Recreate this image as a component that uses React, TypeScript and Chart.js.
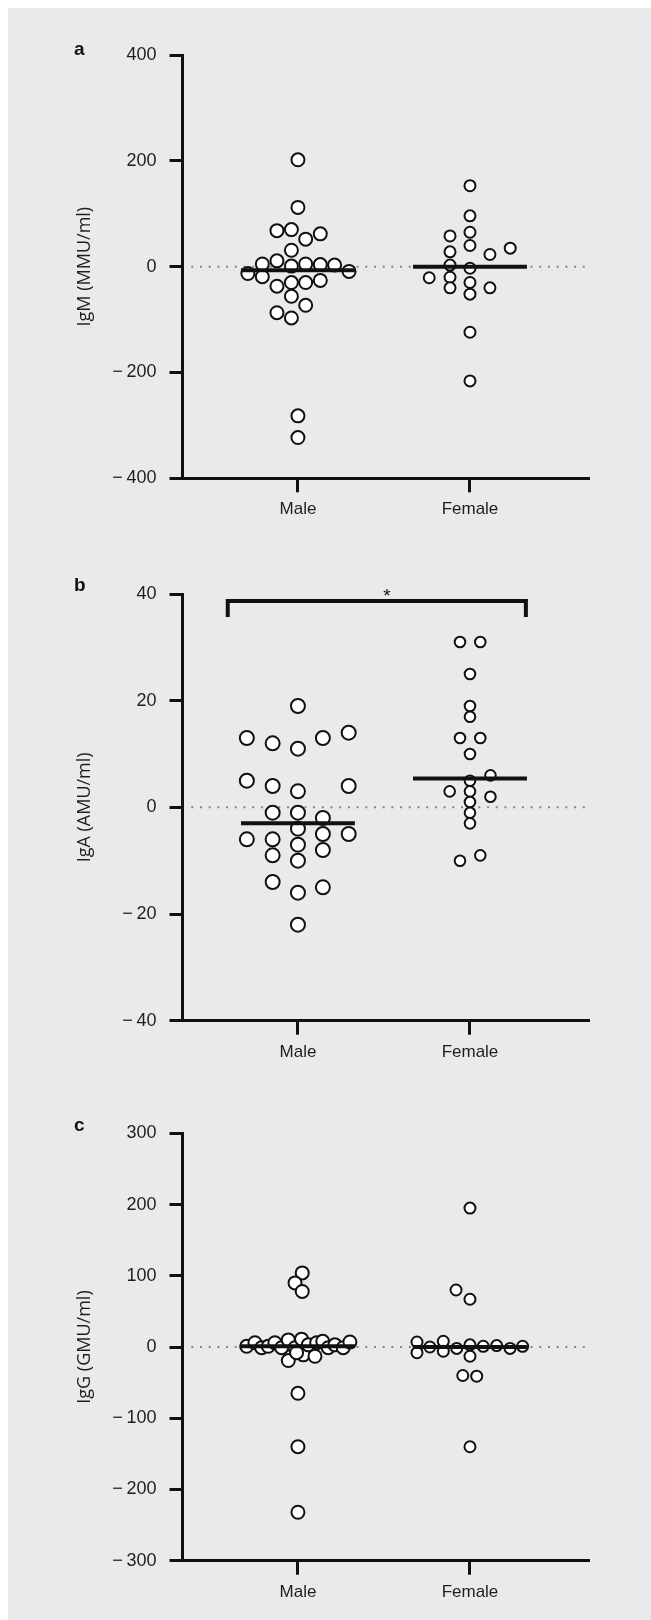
import React, { useEffect, useRef } from 'react';
import { Chart, registerables } from 'chart.js';

Chart.register(...registerables);

// ---------------- data ----------------
const CATEGORIES = ['Male', 'Female'];

// Panel a – IgM (MMU/ml)
const igmTicks = [-400, -200, 0, 200, 400];
const igmMale = [202, 112, 68, 70, 52, 62, 31, 5, 11, 1, 5, 4, 3, -9, -13, -19, -37, -30, -30, -26, -56, -73, -87, -97, -282, -323];
const igmMaleSpread = [0, 0, -0.122, -0.038, 0.045, 0.13, -0.038, -0.207, -0.122, -0.038, 0.045, 0.13, 0.213, 0.297, -0.291, -0.207, -0.122, -0.038, 0.045, 0.13, -0.038, 0.045, -0.122, -0.038, 0, 0];
const igmFemale = [153, 96, 65, 40, 58, 28, 3, -3, 23, 35, -21, -20, -40, -30, -52, -40, -124, -216];
const igmFemaleSpread = [0, 0, 0, 0, -0.116, -0.116, -0.116, 0, 0.116, 0.234, -0.237, -0.116, -0.116, 0, 0, 0.116, 0, 0];
const igmMedians = [-7, 0];

// Panel b – IgA (AMU/ml)
const igaTicks = [-40, -20, 0, 20, 40];
const igaMale = [19, 13, 12, 11, 13, 14, 5, 4, 3, 4, -1, -1, -2, -4, -5, -5, -6, -6, -7, -8, -9, -10, -14, -16, -15, -22];
const igaMaleSpread = [0, -0.297, -0.147, 0, 0.145, 0.295, -0.297, -0.147, 0, 0.295, -0.147, 0, 0.145, 0, 0.145, 0.295, -0.297, -0.147, 0, 0.145, -0.147, 0, -0.147, 0, 0.145, 0];
const igaFemale = [31, 31, 25, 19, 17, 13, 13, 10, 6, 5, 3, 3, 2, 1, -1, -3, -10, -9];
const igaFemaleSpread = [-0.058, 0.06, 0, 0, 0, -0.058, 0.06, 0, 0.119, 0, -0.118, 0, 0.119, 0, 0, 0, -0.058, 0.06];
const igaMedians = [-3, 5.4];
const igaBracketX = [-0.408, 1.325];
const igaBracketY = [35.7, 38.7];
const igaSignificance = '*';

// Panel c – IgG (GMU/ml)
const iggTicks = [-300, -200, -100, 0, 100, 200, 300];
const iggMale = [104, 90, 78, 1, 6, -1, 1, 6, -1, 10, -19, -1, 11, -11, 3, -13, 6, 8, -1, 3, -1, 7, -8, -65, -140, -232];
const iggMaleSpread = [0.025, -0.017, 0.025, -0.298, -0.25, -0.211, -0.173, -0.134, -0.095, -0.056, -0.056, -0.017, 0.021, 0.031, 0.06, 0.099, 0.109, 0.144, 0.176, 0.215, 0.263, 0.302, -0.008, 0, 0, 0];
const iggFemale = [195, 80, 67, 7, -8, 0, 8, -6, -2, 3, -13, 1, 2, -2, 1, -40, -41, -140];
const iggFemaleSpread = [0, -0.081, 0, -0.308, -0.308, -0.233, -0.155, -0.155, -0.077, 0, 0, 0.077, 0.155, 0.233, 0.306, -0.042, 0.039, 0];
const iggMedians = [1, 0];

// ---------------- styles / layout ----------------
const FONT = '"Liberation Sans", Arial, sans-serif';
const TITLE_FONT = '"Open Sans", "Liberation Sans", sans-serif';
const INK = '#111111';
const TEXT = '#1e1e1e';
const BG = '#e9eaeb';
const CANVAS_W = 643;
const X_MIN = -0.671;
const X_MAX = 1.686;
const MEDIAN_HALF = 0.331;
const ZERO_LINE_START = -0.62;

type PanelCfg = {
  letter: string;
  title: string;
  ticks: number[];
  male: number[];
  maleSpread: number[];
  female: number[];
  femaleSpread: number[];
  medians: number[];
  maleRadius: number;
  femaleRadius: number;
  top: number;
  canvasH: number;
  areaTop: number;
  areaBottom: number;
  letterY: number;
  bracket?: { x: number[]; y: number[]; label: string; labelX: number; labelY: number };
};

const PANELS: PanelCfg[] = [
  {
    letter: 'a', title: 'IgM (MMU/ml)', ticks: igmTicks,
    male: igmMale, maleSpread: igmMaleSpread, female: igmFemale, femaleSpread: igmFemaleSpread,
    medians: igmMedians, maleRadius: 6.5, femaleRadius: 5.5,
    top: 12, canvasH: 520, areaTop: 35, areaBottom: 458.3, letterY: 35,
  },
  {
    letter: 'b', title: 'IgA (AMU/ml)', ticks: igaTicks,
    male: igaMale, maleSpread: igaMaleSpread, female: igaFemale, femaleSpread: igaFemaleSpread,
    medians: igaMedians, maleRadius: 7, femaleRadius: 5.3,
    top: 551, canvasH: 520, areaTop: 35, areaBottom: 461.7, letterY: 32,
    bracket: { x: igaBracketX, y: igaBracketY, label: igaSignificance, labelX: 0.518, labelY: 38.5 },
  },
  {
    letter: 'c', title: 'IgG (GMU/ml)', ticks: iggTicks,
    male: iggMale, maleSpread: iggMaleSpread, female: iggFemale, femaleSpread: iggFemaleSpread,
    medians: iggMedians, maleRadius: 6.5, femaleRadius: 5.5,
    top: 1090, canvasH: 520, areaTop: 35.3, areaBottom: 462.7, letterY: 33,
  },
];

const fmtTick = (v: number) => (v < 0 ? '\u2212\u2009' + Math.abs(v) : String(v));

function buildConfig(p: PanelCfg): any {
  const points = (vals: number[], spread: number[], cat: number) =>
    vals.map((v, i) => ({ x: cat + spread[i], y: v }));
  const yMin = p.ticks[0];
  const yMax = p.ticks[p.ticks.length - 1];

  const datasets: any[] = [];
  p.medians.forEach((m, i) => {
    datasets.push({
      data: [{ x: i - MEDIAN_HALF, y: m }, { x: i + MEDIAN_HALF, y: m }],
      showLine: true, borderColor: INK, borderWidth: 4, pointRadius: 0, borderCapStyle: 'butt',
    });
  });
  if (p.bracket) {
    const b = p.bracket;
    datasets.push({
      data: [
        { x: b.x[0], y: b.y[0] }, { x: b.x[0], y: b.y[1] },
        { x: b.x[1], y: b.y[1] }, { x: b.x[1], y: b.y[0] },
      ],
      showLine: true, borderColor: INK, borderWidth: 4, pointRadius: 0,
      borderJoinStyle: 'miter', borderCapStyle: 'butt', clip: false,
    });
  }
  datasets.push({
    data: points(p.male, p.maleSpread, 0),
    pointRadius: p.maleRadius, pointBorderWidth: 2, pointBorderColor: INK, pointBackgroundColor: '#ffffff',
    showLine: false,
  });
  datasets.push({
    data: points(p.female, p.femaleSpread, 1),
    pointRadius: p.femaleRadius, pointBorderWidth: 2, pointBorderColor: INK, pointBackgroundColor: '#ffffff',
    showLine: false,
  });
  datasets.push({
    data: [{ x: ZERO_LINE_START, y: 0 }, { x: X_MAX, y: 0 }],
    showLine: true, borderColor: '#858585', borderWidth: 2, borderDash: [2, 6.7], pointRadius: 0,
  });

  const textPlugin = {
    id: 'panelText',
    afterDraw(chart: any) {
      const ctx = chart.ctx;
      ctx.save();
      ctx.fillStyle = INK;
      ctx.textBaseline = 'alphabetic';
      ctx.textAlign = 'left';
      ctx.font = `bold 19px ${FONT}`;
      ctx.fillText(p.letter, 66, p.letterY);
      if (p.bracket) {
        const b = p.bracket;
        ctx.font = `19px ${FONT}`;
        ctx.textAlign = 'center';
        ctx.fillText(b.label, chart.scales.x.getPixelForValue(b.labelX), chart.scales.y.getPixelForValue(b.labelY));
      }
      ctx.restore();
    },
  };

  return {
    type: 'scatter',
    data: { datasets },
    plugins: [textPlugin],
    options: {
      animation: false,
      responsive: false,
      devicePixelRatio: 1,
      events: [],
      layout: { padding: { top: p.areaTop, left: 0, right: CANVAS_W - 580, bottom: 0 } },
      plugins: { legend: { display: false }, tooltip: { enabled: false } },
      scales: {
        x: {
          type: 'linear',
          min: X_MIN,
          max: X_MAX,
          afterBuildTicks: (s: any) => { s.ticks = CATEGORIES.map((_, i) => ({ value: i })); },
          afterFit: (s: any) => { s.height = p.canvasH - p.areaBottom; },
          ticks: {
            callback: (v: number) => CATEGORIES[v] ?? '',
            color: TEXT, font: { family: FONT, size: 17 }, padding: 7, maxRotation: 0, autoSkip: false,
          },
          grid: { display: true, drawOnChartArea: false, drawTicks: true, tickLength: 14, color: INK, lineWidth: 3 },
          border: { display: true, color: INK, width: 3 },
        },
        y: {
          type: 'linear',
          min: yMin,
          max: yMax,
          afterBuildTicks: (s: any) => { s.ticks = p.ticks.map((v) => ({ value: v })); },
          afterFit: (s: any) => { s.width = 174.5; },
          ticks: { callback: (v: number) => fmtTick(v), color: TEXT, font: { family: FONT, size: 18 }, padding: 13 },
          grid: { display: true, drawOnChartArea: false, drawTicks: true, tickLength: 13, color: INK, lineWidth: 3 },
          border: { display: true, color: INK, width: 3 },
          title: {
            display: true, text: p.title, color: TEXT,
            font: { family: TITLE_FONT, size: 18 }, padding: { top: 66, bottom: 0 },
          },
        },
      },
    },
  };
}

function Panel({ cfg }: { cfg: PanelCfg }) {
  const ref = useRef<HTMLCanvasElement>(null);
  useEffect(() => {
    if (!ref.current) return;
    const chart = new Chart(ref.current, buildConfig(cfg));
    return () => chart.destroy();
  }, [cfg]);
  return (
    <canvas
      ref={ref}
      width={CANVAS_W}
      height={cfg.canvasH}
      style={{ position: 'absolute', left: 0, top: cfg.top, width: CANVAS_W, height: cfg.canvasH, display: 'block' }}
    />
  );
}

export default function App() {
  return (
    <div style={{ position: 'absolute', left: 8, top: 8, width: CANVAS_W, height: 1612, background: BG, overflow: 'hidden' }}>
      {PANELS.map((p) => (
        <Panel key={p.letter} cfg={p} />
      ))}
    </div>
  );
}
